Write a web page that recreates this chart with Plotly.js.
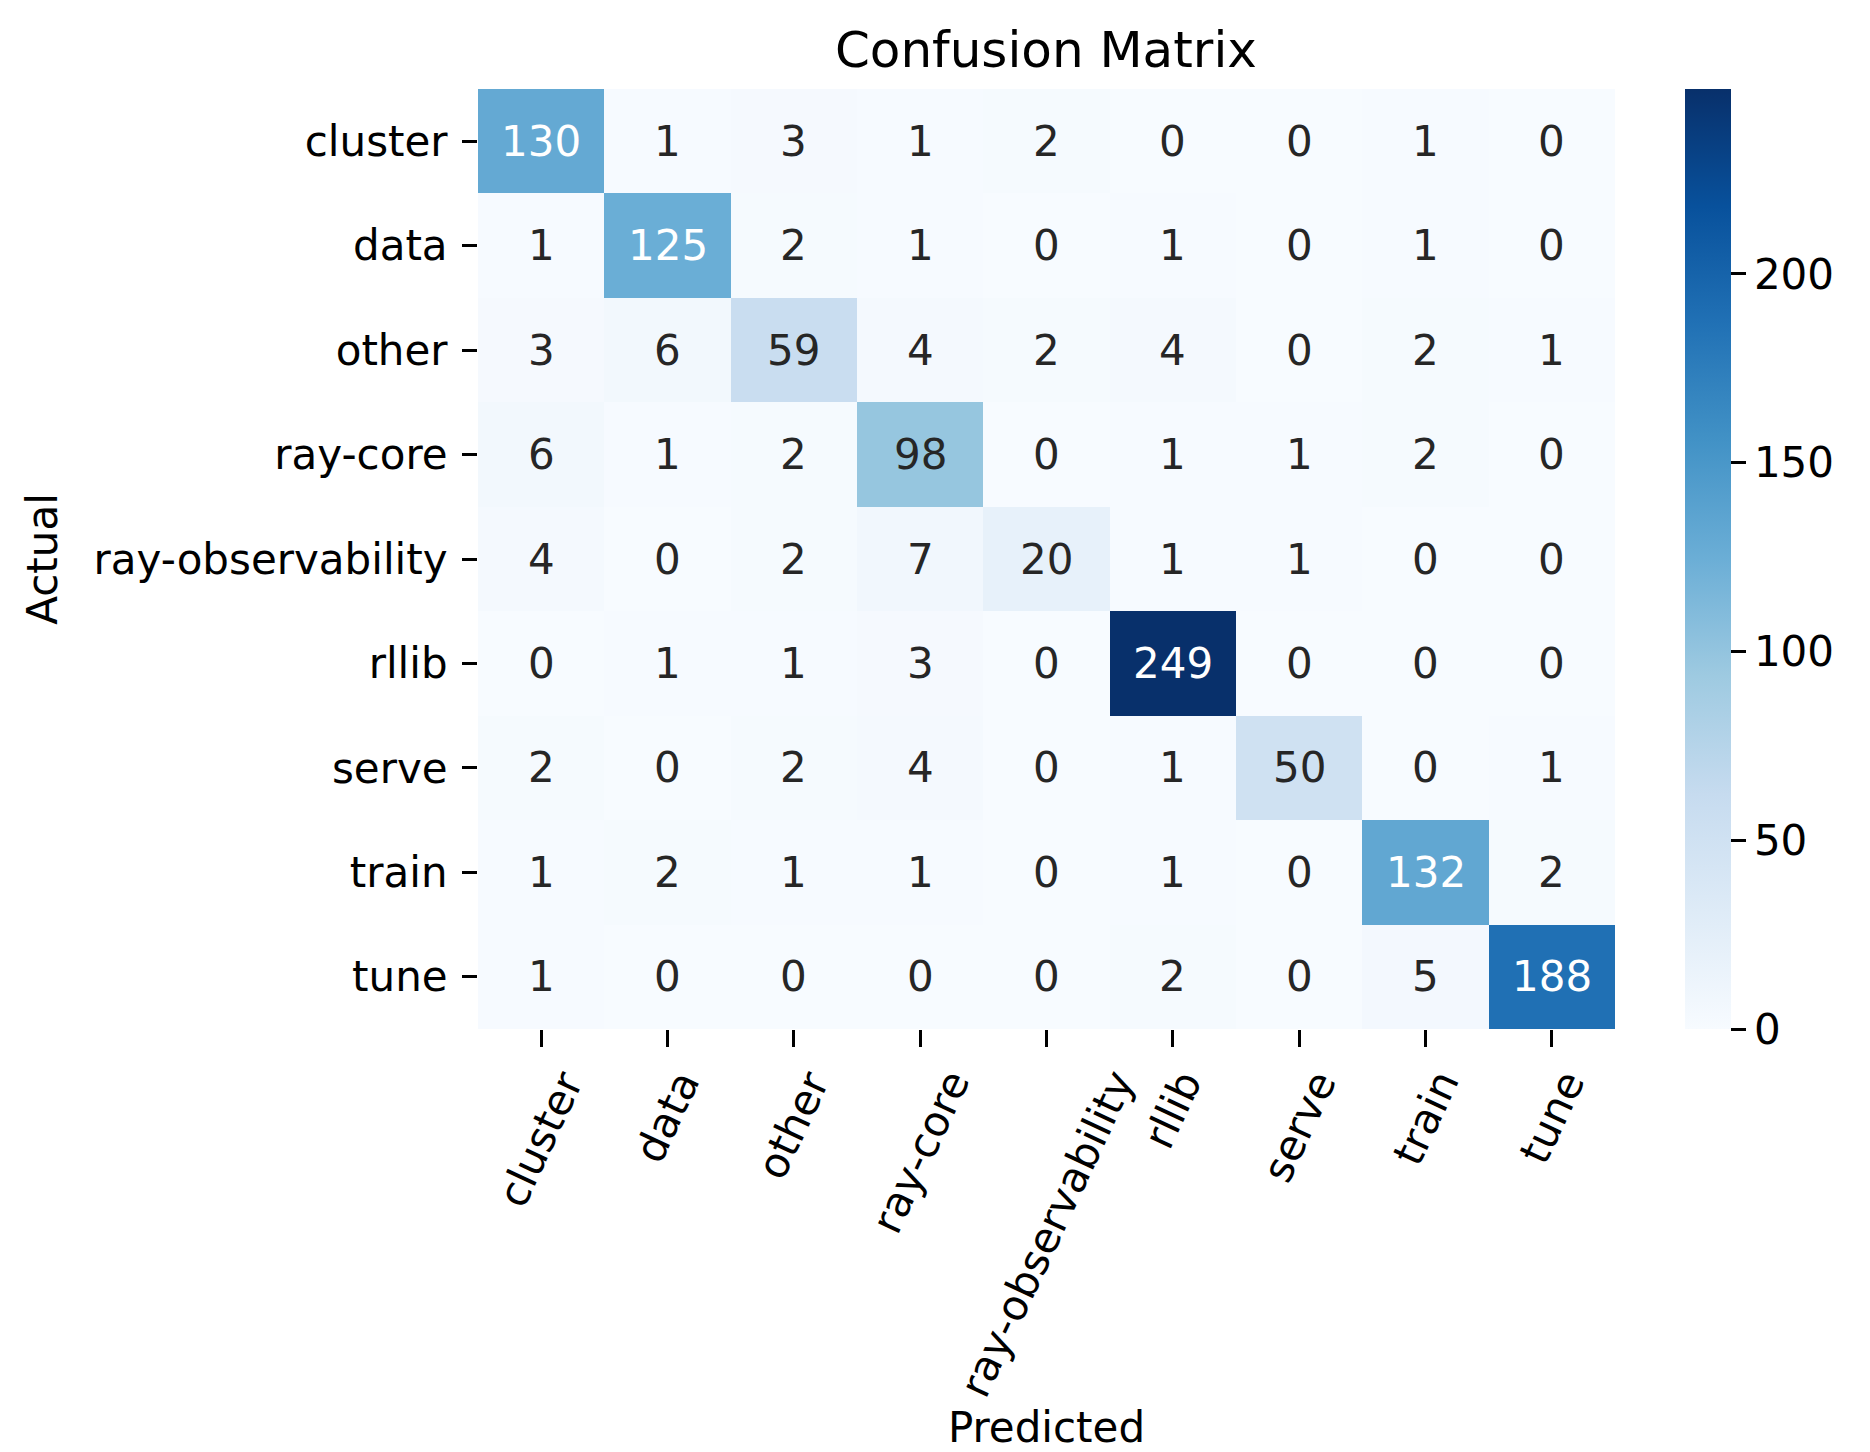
<!DOCTYPE html>
<html>
<head>
<meta charset="utf-8">
<script src="https://cdn.plot.ly/plotly-3.0.1.min.js"></script>
<style>html,body{margin:0;padding:0;background:#fff;}#chart{width:1870px;height:1452px;}</style>
</head>
<body>
<div id="chart"></div>
<script>
// ---- data ----
const categories = ['cluster', 'data', 'other', 'ray-core', 'ray-observability', 'rllib', 'serve', 'train', 'tune'];
const rowCluster = [130, 1, 3, 1, 2, 0, 0, 1, 0];
const rowData = [1, 125, 2, 1, 0, 1, 0, 1, 0];
const rowOther = [3, 6, 59, 4, 2, 4, 0, 2, 1];
const rowRayCore = [6, 1, 2, 98, 0, 1, 1, 2, 0];
const rowRayObservability = [4, 0, 2, 7, 20, 1, 1, 0, 0];
const rowRllib = [0, 1, 1, 3, 0, 249, 0, 0, 0];
const rowServe = [2, 0, 2, 4, 0, 1, 50, 0, 1];
const rowTrain = [1, 2, 1, 1, 0, 1, 0, 132, 2];
const rowTune = [1, 0, 0, 0, 0, 2, 0, 5, 188];
const colorbarTicks = [0, 50, 100, 150, 200];

const matrix = [rowCluster, rowData, rowOther, rowRayCore, rowRayObservability, rowRllib, rowServe, rowTrain, rowTune];

// matplotlib "Blues"
const bluesHex = ['#f7fbff', '#deebf7', '#c6dbef', '#9ecae1', '#6baed6', '#4292c6', '#2171b5', '#08519c', '#08306b'];
const colorscale = bluesHex.map((c, i) => [i / (bluesHex.length - 1), c]);

let zmin = Infinity, zmax = -Infinity;
matrix.forEach(r => r.forEach(v => { zmin = Math.min(zmin, v); zmax = Math.max(zmax, v); }));

function hexToRgb(h) { return [parseInt(h.slice(1, 3), 16), parseInt(h.slice(3, 5), 16), parseInt(h.slice(5, 7), 16)]; }
function colorAt(v) {
  const t = (v - zmin) / (zmax - zmin);
  const n = bluesHex.length - 1;
  const k = Math.min(n - 1, Math.floor(t * n));
  const f = t * n - k;
  const a = hexToRgb(bluesHex[k]), b = hexToRgb(bluesHex[k + 1]);
  return a.map((c, i) => c + (b[i] - c) * f);
}
function luminance(rgb) {
  const lin = rgb.map(c => { c = c / 255; return c <= 0.03928 ? c / 12.92 : Math.pow((c + 0.055) / 1.055, 2.4); });
  return 0.2126 * lin[0] + 0.7152 * lin[1] + 0.0722 * lin[2];
}

const FONT = 'DejaVu Sans, Verdana, sans-serif';
const annotations = [];
matrix.forEach((row, i) => {
  row.forEach((v, j) => {
    annotations.push({
      x: categories[j], y: categories[i], xref: 'x', yref: 'y',
      text: String(v), showarrow: false,
      font: {family: FONT, size: 42, color: luminance(colorAt(v)) > 0.408 ? '#262626' : '#ffffff'}
    });
  });
});
// rotated x tick labels (bbox centred under each tick, as matplotlib does)
categories.forEach(c => {
  annotations.push({
    x: c, xref: 'x', y: 0, yref: 'paper', yshift: -33,
    xanchor: 'center', yanchor: 'top', textangle: -65, borderpad: 0,
    text: c, showarrow: false,
    font: {family: FONT, size: 42, color: '#000000'}
  });
});

const trace = {
  type: 'heatmap',
  x: categories, y: categories, z: matrix,
  zmin: zmin, zmax: zmax,
  colorscale: colorscale,
  hoverinfo: 'skip',
  colorbar: {
    x: 1.0616, xanchor: 'left', xref: 'paper',
    y: 0.5, yanchor: 'middle', len: 1, lenmode: 'fraction',
    thickness: 46, thicknessmode: 'pixels',
    xpad: 0, ypad: 0, outlinewidth: 0,
    tickmode: 'array', tickvals: colorbarTicks, ticktext: colorbarTicks.map(String),
    ticks: 'outside', ticklen: 15, tickwidth: 3, tickcolor: '#000',
    ticklabelstandoff: 4,
    tickfont: {family: FONT, size: 42, color: '#000'}
  }
};

const layout = {
  width: 1870, height: 1452,
  margin: {l: 478, r: 255, t: 89, b: 423, pad: 0},
  paper_bgcolor: '#ffffff', plot_bgcolor: '#ffffff',
  font: {family: FONT, color: '#000'},
  title: {
    text: 'Confusion Matrix', x: 0.5593, xanchor: 'center', xref: 'container',
    y: 1 - 67 / 1452, yanchor: 'bottom', yref: 'container',
    font: {family: FONT, size: 50, color: '#000'}
  },
  xaxis: {
    type: 'category', showgrid: false, zeroline: false, showline: false,
    ticks: 'outside', ticklen: 17, tickwidth: 3, tickcolor: '#000',
    showticklabels: false, automargin: false,
    title: {text: 'Predicted', standoff: 392, font: {family: FONT, size: 42, color: '#000'}}
  },
  yaxis: {
    type: 'category', autorange: 'reversed', showgrid: false, zeroline: false, showline: false,
    ticks: 'outside', ticklen: 15, tickwidth: 3, tickcolor: '#000',
    ticklabelstandoff: 6,
    tickfont: {family: FONT, size: 42, color: '#000'}, automargin: false,
    title: {text: 'Actual', standoff: 22, font: {family: FONT, size: 42, color: '#000'}}
  },
  annotations: annotations,
  showlegend: false
};

Plotly.newPlot('chart', [trace], layout, {displayModeBar: false, staticPlot: true});
</script>
</body>
</html>
